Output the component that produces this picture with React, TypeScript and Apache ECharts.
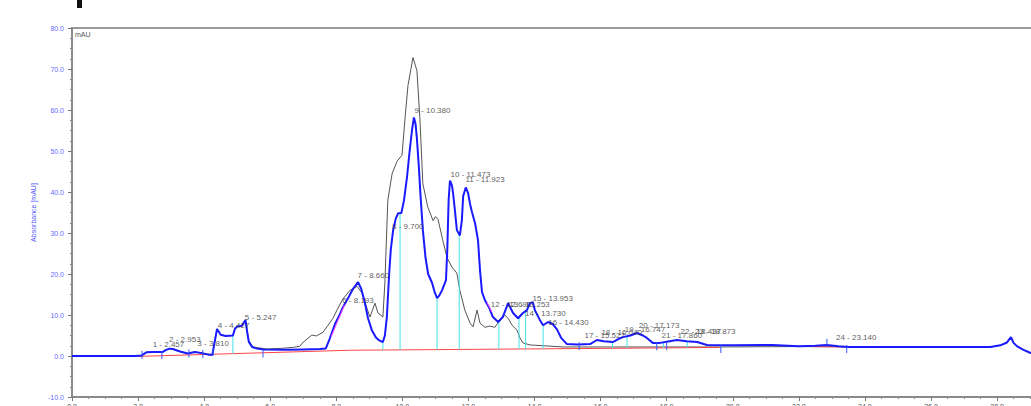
import React, { useEffect, useRef } from "react";
import * as echarts from "echarts";

// Blue trace (time [min], absorbance [mAU])
const blueTime = [0.0, 1.9, 2.1, 2.25, 2.45, 2.75, 2.85, 2.95, 3.05, 3.27, 3.5, 3.72, 3.93, 4.15, 4.25, 4.32, 4.39, 4.5, 4.65, 4.87, 4.93, 5.0, 5.14, 5.25, 5.3, 5.35, 5.45, 5.6, 5.8, 6.5, 7.0, 7.5, 7.68, 7.8, 7.96, 8.1, 8.2, 8.35, 8.5, 8.66, 8.75, 8.85, 8.96, 9.08, 9.2, 9.3, 9.41, 9.47, 9.53, 9.6, 9.65, 9.72, 9.8, 9.87, 9.97, 10.05, 10.14, 10.22, 10.29, 10.35, 10.4, 10.44, 10.5, 10.55, 10.62, 10.7, 10.78, 10.9, 10.98, 11.05, 11.12, 11.2, 11.32, 11.36, 11.4, 11.44, 11.47, 11.5, 11.53, 11.59, 11.65, 11.74, 11.8, 11.84, 11.92, 11.99, 12.05, 12.11, 12.2, 12.29, 12.35, 12.41, 12.5, 12.62, 12.74, 12.9, 13.04, 13.2, 13.35, 13.5, 13.65, 13.77, 13.86, 13.95, 14.01, 14.16, 14.26, 14.41, 14.55, 14.68, 14.8, 14.98, 15.3, 15.68, 15.89, 16.1, 16.37, 16.55, 16.68, 16.9, 17.1, 17.28, 17.4, 17.58, 17.8, 18.0, 18.31, 18.61, 18.92, 19.22, 20.0, 21.2, 22.0, 22.5, 22.85, 23.2, 23.5, 25.0, 27.0, 27.8, 28.1, 28.3, 28.42, 28.5, 28.6, 28.8, 29.0, 29.3];
const blueValue = [0.0, 0.0, 0.1, 0.9, 1.0, 1.0, 1.5, 1.8, 1.7, 1.1, 0.6, 1.0, 0.7, 0.3, 0.3, 3.5, 6.6, 5.2, 4.9, 5.0, 6.6, 7.2, 7.4, 8.8, 6.0, 3.5, 2.2, 1.8, 1.6, 1.5, 1.6, 1.7, 1.8, 4.2, 7.8, 10.0, 11.9, 14.0, 16.3, 18.0, 16.5, 13.5, 9.2, 6.2, 4.5, 3.8, 3.4, 5.0, 9.5, 20.0, 26.0, 30.7, 33.5, 34.8, 34.9, 38.0, 43.6, 50.0, 55.0, 58.2, 56.5, 53.0, 46.0, 39.0, 30.7, 24.0, 20.0, 17.8, 15.5, 14.1, 14.8, 16.0, 18.5, 26.0, 38.0, 42.8, 42.2, 41.6, 40.0, 35.5, 30.7, 29.4, 33.0, 39.0, 41.1, 39.7, 37.0, 35.0, 32.4, 28.2, 20.9, 15.6, 13.6, 11.9, 9.5, 8.3, 9.5, 12.9, 10.5, 9.2, 10.5, 11.2, 12.9, 13.1, 11.2, 8.8, 7.5, 8.3, 7.8, 6.5, 4.5, 2.9, 2.8, 2.9, 3.9, 3.6, 3.4, 4.2, 4.6, 5.0, 5.6, 5.0, 4.4, 3.2, 3.2, 3.5, 3.9, 3.6, 3.4, 2.7, 2.6, 2.7, 2.4, 2.5, 2.7, 2.4, 2.2, 2.2, 2.2, 2.2, 2.6, 3.3, 4.6, 3.2, 2.4, 1.5, 0.8, 0.0];

// Grey trace
const greyTime = [0.0, 1.9, 2.1, 2.25, 2.45, 2.75, 2.85, 2.95, 3.05, 3.27, 3.5, 3.72, 3.93, 4.15, 4.25, 4.32, 4.39, 4.5, 4.65, 4.87, 4.93, 5.0, 5.14, 5.25, 5.3, 5.35, 5.48, 5.9, 6.4, 6.7, 6.9, 7.0, 7.26, 7.4, 7.6, 7.9, 8.02, 8.2, 8.41, 8.63, 8.78, 8.93, 9.02, 9.17, 9.26, 9.41, 9.47, 9.56, 9.69, 9.84, 9.99, 10.08, 10.17, 10.32, 10.44, 10.53, 10.62, 10.77, 10.93, 11.0, 11.08, 11.23, 11.35, 11.5, 11.65, 11.74, 11.89, 12.05, 12.14, 12.26, 12.35, 12.5, 12.65, 12.8, 13.01, 13.1, 13.2, 13.32, 13.47, 13.56, 13.65, 13.86, 14.86, 16.0, 19.6, 22.0, 25.0, 27.8, 28.1, 28.3, 28.42, 28.5, 28.6, 28.8, 29.0, 29.3];
const greyValue = [0.0, 0.0, 0.1, 0.9, 1.0, 1.0, 1.5, 1.8, 1.7, 1.1, 0.6, 1.0, 0.7, 0.3, 0.3, 3.5, 6.6, 5.2, 4.9, 5.0, 6.6, 7.2, 7.4, 8.8, 6.0, 3.8, 2.2, 1.7, 1.9, 2.1, 2.4, 3.4, 5.1, 4.9, 5.8, 9.2, 11.2, 13.9, 16.0, 17.0, 15.3, 11.6, 9.5, 12.9, 10.5, 9.5, 17.8, 38.0, 44.5, 47.5, 49.0, 58.0, 66.0, 72.8, 69.6, 58.0, 42.0, 36.3, 33.0, 34.0, 33.3, 28.0, 24.0, 21.7, 20.2, 16.0, 11.2, 8.0, 7.1, 11.2, 8.0, 7.0, 7.3, 7.0, 9.5, 10.0, 9.2, 7.5, 6.3, 4.4, 3.2, 2.7, 2.2, 2.2, 2.2, 2.3, 2.2, 2.2, 2.6, 3.3, 4.6, 3.2, 2.4, 1.5, 0.8, 0.0];

// Red baseline
const baseTime = [2.0, 8.4, 18.4, 19.6];
const baseValue = [-0.1, 1.4, 2.0, 2.1];
const base2Time = [22.4, 23.5];
const base2Value = [2.3, 2.2];

// Peak labels
const peakNames = ["1 - 2.457", "2 - 2.953", "3 - 3.810", "4 - 4.427", "5 - 5.247", "6 - 8.193", "7 - 8.660", "8 - 9.700", "9 - 10.380", "10 - 11.473", "11 - 11.923", "12 - 12.690", "13 - 13.253", "14 - 13.730", "15 - 13.953", "16 - 14.430", "17 - 15.527", "18 - 16.040", "19 - 16.747", "20 - 17.173", "21 - 17.860", "22 - 18.437", "23 - 18.873", "24 - 23.140"];
const peakTimes = [2.457, 2.953, 3.81, 4.427, 5.247, 8.193, 8.66, 9.7, 10.38, 11.473, 11.923, 12.69, 13.253, 13.73, 13.953, 14.43, 15.527, 16.04, 16.747, 17.173, 17.86, 18.437, 18.873, 23.14];
const peakHeights = [1.2, 2.4, 1.5, 5.8, 7.8, 11.9, 18.0, 29.9, 58.2, 42.8, 41.4, 10.9, 10.9, 8.8, 12.4, 6.6, 3.4, 4.1, 4.9, 5.8, 3.4, 4.4, 4.4, 2.9];

// Drop lines (boundary time, top value)
const dropTimes = [4.87, 9.41, 9.93, 11.05, 11.72, 12.92, 13.53, 13.73, 14.26, 16.36, 16.8, 17.9, 18.62];
const dropTops = [5.0, 3.4, 34.8, 14.1, 29.4, 8.5, 9.3, 10.8, 7.5, 3.6, 4.8, 3.3, 3.6];

// Delimiter marks
const markTimes = [2.12, 2.72, 3.54, 3.96, 4.27, 5.78, 15.35, 17.7, 18.0, 19.64, 22.85, 23.45];
const markValues = [0.3, 0.2, 0.6, 0.5, 1.0, 0.6, 2.4, 2.4, 2.4, 1.7, 3.2, 1.7];

// Magenta tangent segments
const tangent1 = [[7.85, 4.8], [8.25, 12.5]];
const tangent2 = [[12.56, 13.1], [12.71, 10.7]];

const zip = (a: number[], b: number[]) => a.map((v, i) => [v, b[i]]);

function baselineAt(t: number) {
  if (t <= baseTime[0]) return baseValue[0];
  for (let i = 1; i < baseTime.length; i++) {
    if (t <= baseTime[i]) {
      const f = (t - baseTime[i - 1]) / (baseTime[i] - baseTime[i - 1]);
      return baseValue[i - 1] + f * (baseValue[i] - baseValue[i - 1]);
    }
  }
  return baseValue[baseValue.length - 1];
}

const FONT = "'Liberation Sans', Arial, sans-serif";

export default function App() {
  const ref = useRef<HTMLDivElement>(null);
  useEffect(() => {
    if (!ref.current) return;
    const chart = echarts.init(ref.current, null, { renderer: "svg" });
    const labelFmt = (v: number) => v.toFixed(1);
    chart.setOption({
      animation: false,
      backgroundColor: "#ffffff",
      textStyle: { fontFamily: FONT },
      grid: {
        left: 72,
        right: 0,
        top: 28,
        bottom: 28,
        show: true,
        borderColor: "#9a9a9a",
        borderWidth: 2,
      },
      graphic: [
        { type: "rect", left: 77, top: 0, shape: { width: 5, height: 8 }, style: { fill: "#111" } },
        { type: "text", left: 75, top: 31, style: { text: "mAU", fontSize: 7, fill: "#555", fontFamily: FONT } },
      ],
      xAxis: {
        type: "value",
        min: 0,
        max: 29.3,
        interval: 2,
        axisLine: { show: true, onZero: false, lineStyle: { color: "#8a8a8a", width: 2 } },
        axisTick: { show: true, length: 4, lineStyle: { color: "#777" } },
        minorTick: { show: true, splitNumber: 4, length: 2, lineStyle: { color: "#888" } },
        splitLine: { show: false },
        axisLabel: { color: "#555", fontSize: 7, margin: 6, formatter: labelFmt, showMaxLabel: false },
      },
      yAxis: {
        type: "value",
        min: -10,
        max: 80,
        interval: 10,
        name: "Absorbance [mAU]",
        nameLocation: "middle",
        nameGap: 29,
        nameTextStyle: { color: "#5555ff", fontSize: 7, fontFamily: FONT },
        axisLine: { show: true, onZero: false, lineStyle: { color: "#8a8a8a", width: 2 } },
        axisTick: { show: true, length: 4, lineStyle: { color: "#777" } },
        minorTick: { show: true, splitNumber: 4, length: 2, lineStyle: { color: "#888" } },
        splitLine: { show: false },
        axisLabel: { color: "#6a6aff", fontSize: 7, margin: 8, formatter: labelFmt },
      },
      series: [
        {
          type: "line",
          name: "grey",
          data: zip(greyTime, greyValue),
          symbol: "none",
          lineStyle: { color: "#555555", width: 1 },
          z: 2,
        },
        {
          type: "line",
          name: "baseline",
          data: zip(baseTime, baseValue),
          symbol: "none",
          lineStyle: { color: "#ff4444", width: 1 },
          z: 3,
        },
        {
          type: "line",
          name: "baseline2",
          data: zip(base2Time, base2Value),
          symbol: "none",
          lineStyle: { color: "#ff4444", width: 1 },
          z: 3,
        },
        {
          type: "custom",
          name: "drops",
          data: dropTimes.map((t, i) => [t, baselineAt(t), dropTops[i]]),
          renderItem: (params: any, api: any) => {
            const a = api.coord([api.value(0), api.value(1)]);
            const b = api.coord([api.value(0), api.value(2)]);
            return {
              type: "line",
              shape: { x1: a[0], y1: a[1], x2: b[0], y2: b[1] },
              style: { stroke: "#44e4e8", lineWidth: 1 },
            };
          },
          z: 4,
        },
        {
          type: "line",
          name: "blue",
          data: zip(blueTime, blueValue),
          symbol: "none",
          lineStyle: { color: "#1a1aff", width: 2 },
          z: 5,
        },
        {
          type: "line",
          name: "tangent1",
          data: tangent1,
          symbol: "none",
          lineStyle: { color: "#ff44ff", width: 1 },
          z: 6,
        },
        {
          type: "line",
          name: "tangent2",
          data: tangent2,
          symbol: "none",
          lineStyle: { color: "#ff44ff", width: 1 },
          z: 6,
        },
        {
          type: "custom",
          name: "marks",
          data: zip(markTimes, markValues),
          renderItem: (params: any, api: any) => {
            const p = api.coord([api.value(0), api.value(1)]);
            return {
              type: "line",
              shape: { x1: p[0], y1: p[1] - 4, x2: p[0], y2: p[1] + 4 },
              style: { stroke: "#3355ff", lineWidth: 1 },
            };
          },
          z: 7,
        },
        {
          type: "scatter",
          name: "labels",
          symbolSize: 1,
          itemStyle: { color: "rgba(0,0,0,0)" },
          data: peakTimes.map((t, i) => ({ value: [t, peakHeights[i]], name: peakNames[i] })),
          label: {
            show: true,
            position: [0, -10],
            formatter: (p: any) => p.name,
            color: "#333333",
            fontSize: 8,
            fontFamily: FONT,
          },
          z: 8,
        },
      ],
    });
    return () => chart.dispose();
  }, []);
  return (
    <div style={{ position: "fixed", left: 0, top: 0, width: 1031, height: 406, overflow: "hidden", background: "#fff" }}>
      <div ref={ref} style={{ width: 1040, height: 425 }} />
    </div>
  );
}
